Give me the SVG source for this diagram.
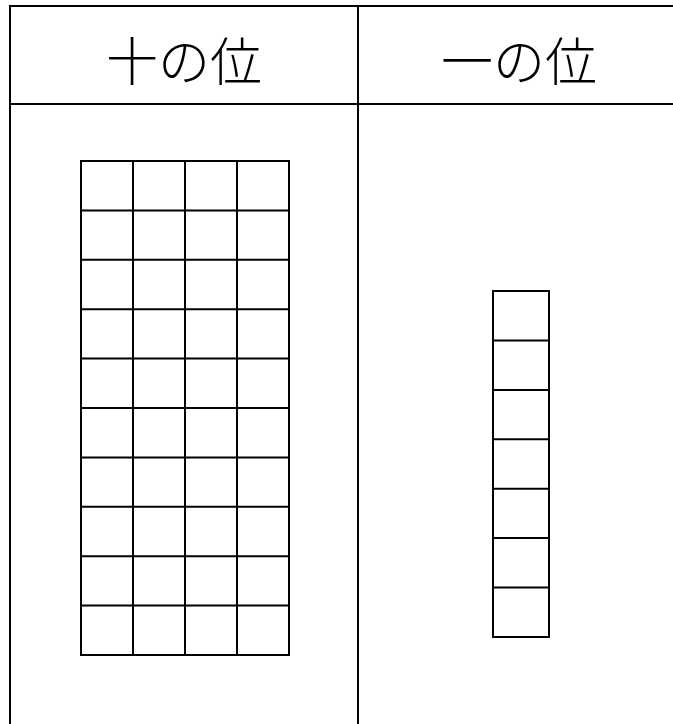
<svg xmlns="http://www.w3.org/2000/svg" width="673" height="724" viewBox="0 0 673 724">
<style>
.ln{stroke:#000;stroke-width:2;fill:none}
.cell{stroke:#000;stroke-width:2;fill:#fff}
.hd{font-family:"Noto Sans CJK JP","Noto Sans CJK SC",sans-serif;font-size:52px;font-weight:300;fill:#000;text-anchor:middle}
</style>
<rect width="673" height="724" fill="#fff"/>
<g id="table">
<line class="ln" x1="10" y1="6" x2="673" y2="6"/>
<line class="ln" x1="10" y1="104" x2="673" y2="104"/>
<line class="ln" x1="10" y1="5" x2="10" y2="724"/>
<line class="ln" x1="358" y1="5" x2="358" y2="724"/>
</g>
<g id="header-tens"><text class="hd" x="184" y="81">十の位</text></g>
<g id="header-ones"><text class="hd" x="519" y="81">一の位</text></g>
<g id="tens-grid">
<rect class="cell" x="81" y="161" width="208" height="494"/>
<path class="ln" d="M133 161V655M185 161V655M237 161V655
M81 210.4H289M81 259.8H289M81 309.2H289M81 358.6H289M81 408H289M81 457.4H289M81 506.8H289M81 556.2H289M81 605.6H289"/>
</g>
<g id="ones-grid">
<rect class="cell" x="493" y="291" width="56" height="346"/>
<path class="ln" d="M493 340.4H549M493 389.9H549M493 439.3H549M493 488.7H549M493 538.1H549M493 587.6H549"/>
</g>
</svg>
